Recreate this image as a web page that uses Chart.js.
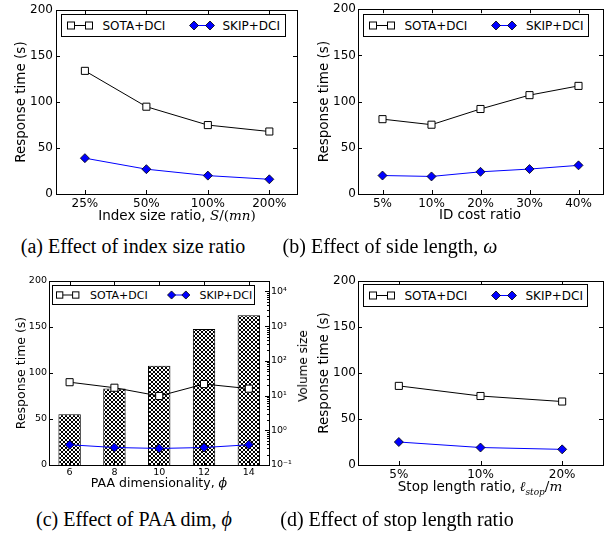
<!DOCTYPE html>
<html>
<head>
<meta charset="utf-8">
<script src="https://cdn.jsdelivr.net/npm/chart.js@4.4.1/dist/chart.umd.min.js"></script>
<style>
  body { margin: 0; background: #fff; }
  #fig { position: relative; width: 612px; height: 535px; overflow: hidden; font-family: "DejaVu Sans", sans-serif; color: #000; }
  canvas { position: absolute; }
  .legend { position: absolute; border: 1px solid #000; background: #fff; box-sizing: border-box; }
  .legend svg, .legend span { position: absolute; }
  .legend span { white-space: nowrap; top: 50%; transform: translateY(-50%); }
  .xt { position: absolute; transform: translateX(-50%); white-space: nowrap; }
  .rt { position: absolute; white-space: nowrap; transform: translate(-50%, -50%) rotate(-90deg); }
  .cap { position: absolute; transform: translateX(-50%); white-space: nowrap; font-family: "Liberation Serif", "DejaVu Serif", serif; font-size: 20px; line-height: 20px; }
  .m { font-family: "DejaVu Serif", serif; }
</style>
</head>
<body>
<div id="fig">
  <canvas id="chartA" width="306" height="225" style="left:0;top:0"></canvas>
  <canvas id="chartB" width="306" height="225" style="left:306px;top:0"></canvas>
  <canvas id="chartC" width="306" height="230" style="left:0;top:270px"></canvas>
  <canvas id="chartD" width="306" height="230" style="left:306px;top:270px"></canvas>

  <div class="xt" style="left:177px;top:207px;font-size:13.5px;line-height:16px">Index size ratio, <span class="m"><i>S</i>/(<i>mn</i>)</span></div>
  <div class="xt" style="left:480px;top:206px;font-size:13.5px;line-height:16px">ID cost ratio</div>
  <div class="xt" style="left:159px;top:475px;font-size:12.5px;line-height:16px">PAA dimensionality, <span class="m"><i>ϕ</i></span></div>
  <div class="xt" style="left:480px;top:478px;font-size:13.5px;line-height:16px">Stop length ratio, <span class="m"><i>ℓ</i><sub style="font-size:9px"><i>stop</i></sub>/<i>m</i></span></div>
  <div class="rt" style="left:303px;top:366px;font-size:12px">Volume size</div>

  <div class="cap" style="left:133px;top:236px">(a) Effect of index size ratio</div>
  <div class="cap" style="left:390px;top:236px">(b) Effect of side length, <i>ω</i></div>
  <div class="cap" style="left:134px;top:509px">(c) Effect of PAA dim, <i>ϕ</i></div>
  <div class="cap" style="left:397px;top:509px">(d) Effect of stop length ratio</div>
</div>

<script>
// (a) index size ratio
const idxLabels = ['25%', '50%', '100%', '200%'];
const idxSota = [134, 95, 75, 68];
const idxSkip = [39, 27, 20, 16];

// (b) ID cost ratio
const costLabels = ['5%', '10%', '20%', '30%', '40%'];
const costSota = [81, 75, 92, 107, 117];
const costSkip = [20, 19, 24, 27, 31];

// (c) PAA dimensionality, bars are volume size (log axis)
const paaLabels = ['6', '8', '10', '12', '14'];
const paaSota = [90, 84, 75, 88, 83];
const paaSkip = [22, 19, 18, 19, 22];
const paaVolume = [2.9, 16, 72, 830, 2070];

// (d) stop length ratio
const stopLabels = ['5%', '10%', '20%'];
const stopSota = [86, 75, 69];
const stopSkip = [25, 19, 17];

const yTicks = [0, 50, 100, 150, 200];
const volTicks = [0.1, 1, 10, 100, 1000, 10000];
const supers = {'-': '⁻', '0': '⁰', '1': '¹', '2': '²', '3': '³', '4': '⁴'};

Chart.defaults.font.family = '"DejaVu Sans", sans-serif';
Chart.defaults.color = '#000';

function hatchPattern() {
  const c = document.createElement('canvas');
  c.width = 4; c.height = 4;
  const g = c.getContext('2d');
  g.fillStyle = '#fff';
  g.fillRect(0, 0, 4, 4);
  g.strokeStyle = '#000';
  g.lineWidth = 1;
  g.beginPath();
  g.moveTo(-1, -1); g.lineTo(5, 5);
  g.moveTo(-1, 5); g.lineTo(5, -1);
  g.stroke();
  return g.createPattern(c, 'repeat');
}

// matplotlib-ish frame: box round the plot, ticks pointing inwards
const frame = {
  id: 'frame',
  afterDraw(chart) {
    const {ctx, chartArea: a, scales} = chart;
    const L = 4;
    ctx.save();
    ctx.strokeStyle = '#000';
    ctx.lineWidth = 1;
    ctx.beginPath();
    scales.x.ticks.forEach(t => {
      const px = Math.round(scales.x.getPixelForValue(t.value)) + 0.5;
      ctx.moveTo(px, a.bottom); ctx.lineTo(px, a.bottom - L);
      ctx.moveTo(px, a.top); ctx.lineTo(px, a.top + L);
    });
    scales.y.ticks.forEach(t => {
      const py = Math.round(scales.y.getPixelForValue(t.value)) + 0.5;
      ctx.moveTo(a.left, py); ctx.lineTo(a.left + L, py);
      if (!scales.y2) { ctx.moveTo(a.right, py); ctx.lineTo(a.right - L, py); }
    });
    if (scales.y2) {
      const s = scales.y2;
      for (let d = -1; d <= 4; d++) {
        for (let m = 1; m <= 9; m++) {
          const v = m * Math.pow(10, d);
          if (v > s.max) break;
          const py = Math.round(s.getPixelForValue(v)) + 0.5;
          const len = m === 1 ? L : 2;
          ctx.moveTo(a.right, py); ctx.lineTo(a.right - len, py);
        }
      }
    }
    ctx.stroke();
    ctx.strokeRect(Math.round(a.left) + 0.5, Math.round(a.top) + 0.5,
                   Math.round(a.right - a.left), Math.round(a.bottom - a.top));
    ctx.restore();
  }
};

function makeChart(id, labels, sota, skip, g) {
  const pts = arr => arr.map((v, i) => ({x: i, y: v}));
  const datasets = [
    {
      label: 'SOTA+DCI', data: pts(sota), yAxisID: 'y', order: 0,
      borderColor: '#000', borderWidth: 1,
      pointStyle: 'rect', pointRadius: g.sq, pointBackgroundColor: '#fff',
      pointBorderColor: '#000', pointBorderWidth: 1
    },
    {
      label: 'SKIP+DCI', data: pts(skip), yAxisID: 'y', order: 1,
      borderColor: '#0000ff', borderWidth: 1,
      pointStyle: 'rectRot', pointRadius: g.dm, pointBackgroundColor: '#0000ff',
      pointBorderColor: '#000', pointBorderWidth: 0.8
    }
  ];
  const scales = {
    x: {
      type: 'linear', offset: false, min: -g.padL, max: labels.length - 1 + g.padR,
      afterBuildTicks: s => { s.ticks = labels.map((_, i) => ({value: i})); },
      afterFit: s => { s.height = g.xh; },
      grid: {display: false, drawTicks: false}, border: {display: false},
      ticks: {font: {size: g.tick}, padding: g.xpad, maxRotation: 0, callback: v => labels[v]}
    },
    y: {
      type: 'linear', min: 0, max: 200,
      afterBuildTicks: s => { s.ticks = yTicks.map(v => ({value: v})); },
      afterFit: s => { s.width = g.yw; },
      grid: {display: false, drawTicks: false}, border: {display: false},
      ticks: {font: {size: g.tick}, padding: g.ypad},
      title: {display: true, text: 'Response time (s)', font: {size: g.title, lineHeight: 1},
              padding: {top: g.ytitle, bottom: 0}}
    }
  };
  if (g.volume) {
    datasets.push({
      type: 'bar', label: 'Volume size', data: pts(g.volume), yAxisID: 'y2', order: 2,
      backgroundColor: hatchPattern(), borderColor: '#000', borderWidth: 1,
      barPercentage: 0.5, categoryPercentage: 1
    });
    scales.y2 = {
      type: 'logarithmic', position: 'right', min: 0.1, max: 20000,
      afterBuildTicks: s => { s.ticks = volTicks.map(v => ({value: v})); },
      afterFit: s => { s.width = g.y2w; },
      grid: {display: false, drawTicks: false}, border: {display: false},
      ticks: {font: {size: g.tick}, padding: 2,
              callback: v => '10' + String(Math.round(Math.log10(v))).split('').map(c => supers[c]).join('')}
    };
  }
  new Chart(document.getElementById(id), {
    type: 'line',
    data: {datasets},
    options: {
      responsive: false, animation: false,
      layout: {padding: {top: g.top, right: g.right, left: 0, bottom: 0}},
      plugins: {legend: {display: false}, tooltip: {enabled: false}},
      scales
    },
    plugins: [frame]
  });
}

function addLegend(left, top, w, h, fs, xs, k) {
  const box = document.createElement('div');
  box.className = 'legend';
  Object.assign(box.style, {left: left + 'px', top: top + 'px', width: w + 'px', height: h + 'px'});
  const cy = (h - 2) / 2;
  const s = 3.5 * k, r = 4.5 * k, wd = 26 * k;
  const sq = `<svg width="${wd + 2}" height="${h}" style="left:${xs[0]}px;top:0">
    <line x1="${s}" y1="${cy}" x2="${wd - s}" y2="${cy}" stroke="#000" stroke-width="1"/>
    <rect x="${0.5}" y="${cy - s}" width="${2 * s}" height="${2 * s}" fill="#fff" stroke="#000"/>
    <rect x="${wd - 2 * s - 0.5}" y="${cy - s}" width="${2 * s}" height="${2 * s}" fill="#fff" stroke="#000"/></svg>`;
  const dia = (cx) => `<polygon points="${cx - r},${cy} ${cx},${cy - r} ${cx + r},${cy} ${cx},${cy + r}" fill="#0000ff" stroke="#000" stroke-width="0.8"/>`;
  const dm = `<svg width="${wd + 2}" height="${h}" style="left:${xs[2]}px;top:0">
    <line x1="${r}" y1="${cy}" x2="${wd - r}" y2="${cy}" stroke="#0000ff" stroke-width="1"/>
    ${dia(r + 0.5)}${dia(wd - r - 0.5)}</svg>`;
  box.innerHTML = sq + `<span style="left:${xs[1]}px;font-size:${fs}px">SOTA+DCI</span>` +
                  dm + `<span style="left:${xs[3]}px;font-size:${fs}px">SKIP+DCI</span>`;
  document.getElementById('fig').appendChild(box);
}

makeChart('chartA', idxLabels, idxSota, idxSkip,
  {top: 9, right: 9, yw: 56, xh: 31, padL: 0.47, padR: 0.45, tick: 12, title: 13.5, ytitle: 15, xpad: 3, ypad: 3, sq: 5, dm: 4.5});
makeChart('chartB', costLabels, costSota, costSkip,
  {top: 9, right: 9, yw: 52, xh: 31, padL: 0.5, padR: 0.5, tick: 12, title: 13.5, ytitle: 11.5, xpad: 3, ypad: 2, sq: 5, dm: 4.5});
makeChart('chartC', paaLabels, paaSota, paaSkip,
  {top: 11, right: 0, yw: 49, y2w: 37, xh: 35, padL: 0.46, padR: 0.45, tick: 9.5, title: 12.5, ytitle: 15.5, xpad: 2, ypad: 2, sq: 5, dm: 4.5, volume: paaVolume});
makeChart('chartD', stopLabels, stopSota, stopSkip,
  {top: 11, right: 9, yw: 52, xh: 35, padL: 0.5, padR: 0.5, tick: 12, title: 13.5, ytitle: 11.5, xpad: 3, ypad: 2, sq: 5, dm: 4.5});

addLegend(61, 14, 225, 23, 12, [4.5, 40.5, 127, 160.5], 1);
addLegend(363, 14, 226, 23, 12, [4.5, 40.5, 127, 162], 1);
addLegend(52, 285, 203, 20, 11, [2.5, 37, 113.5, 146.5], 0.9);
addLegend(363, 284, 225, 23, 12, [4.5, 40.5, 127, 161.5], 1);
</script>
</body>
</html>
